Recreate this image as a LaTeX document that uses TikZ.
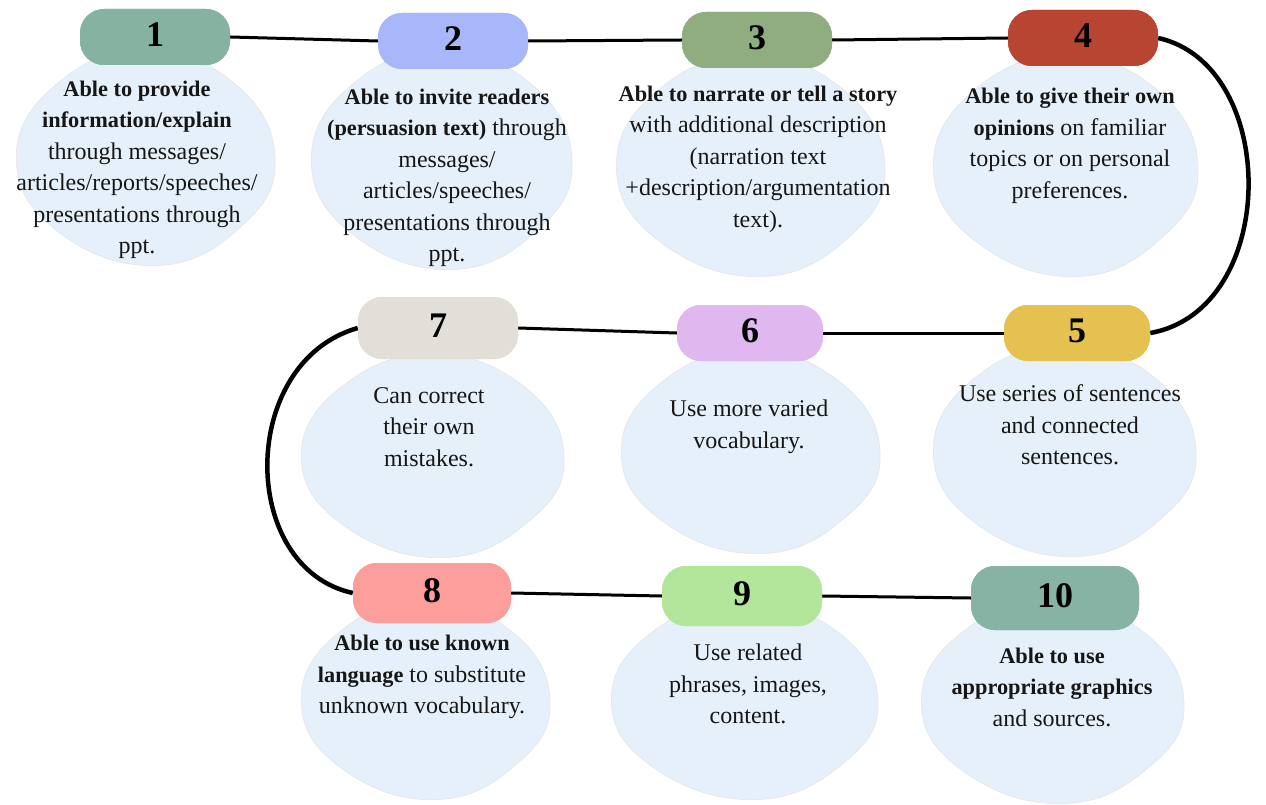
\documentclass[tikz,border=0pt]{standalone}
\usepackage{fontspec}
\setmainfont{Liberation Serif}
\definecolor{blobc}{HTML}{E6F0FB}
\definecolor{pA}{HTML}{86B3A1}
\definecolor{pB}{HTML}{A8B7F9}
\definecolor{pC}{HTML}{8FAD7F}
\definecolor{pD}{HTML}{B84432}
\definecolor{pE}{HTML}{E5C24F}
\definecolor{pF}{HTML}{E0B7EF}
\definecolor{pG}{HTML}{E2DFD9}
\definecolor{pH}{HTML}{FC9E9C}
\definecolor{pI}{HTML}{B3E69B}
\definecolor{pJ}{HTML}{86B3A3}
\definecolor{txt}{HTML}{161616}
\newcommand\bt[1]{{\fontsize{22.3}{31.5}\selectfont\bfseries #1}}
\newcommand\myblob[4]{%
  \filldraw[fill=blobc,draw=black!10,line width=0.6pt] plot[smooth cycle,tension=0.75] coordinates {
    ({#1+#3*1.00*cos(0)},{#2+#4*1.00*sin(0)})
    ({#1+#3*0.97*cos(40)},{#2+#4*0.98*sin(40)})
    ({#1+#3*0.99*cos(85)},{#2+#4*1.00*sin(85)})
    ({#1+#3*0.95*cos(135)},{#2+#4*0.96*sin(135)})
    ({#1+#3*0.99*cos(180)},{#2+#4*0.99*sin(180)})
    ({#1+#3*0.96*cos(225)},{#2+#4*0.97*sin(225)})
    ({#1+#3*0.95*cos(270)},{#2+#4*1.00*sin(270)})
    ({#1+#3*0.98*cos(315)},{#2+#4*0.97*sin(315)})
  };}
\tikzset{
  pill/.style={rectangle,rounded corners=24pt,minimum width=150pt,minimum height=56pt,
    inner sep=0pt,text depth=5pt,font=\fontsize{36}{36}\selectfont\bfseries,text=black},
  desc/.style={align=center,font=\fontsize{24}{31.5}\selectfont,text=txt,inner sep=0pt},
  link/.style={line width=3pt,black},
  arcline/.style={line width=4.5pt,black}
}
\begin{document}
\begin{tikzpicture}[x=1pt,y=-1pt]
\useasboundingbox (0,0) rectangle (1266,805);
% blobs
\myblob{145}{158}{130}{108}
\myblob{441}{160}{131}{110}
\myblob{750}{166}{135}{111}
\myblob{1065}{166}{133}{111}
\myblob{432}{456}{132}{102}
\myblob{750}{452}{130}{102}
\myblob{1064}{451}{132}{106}
\myblob{425}{700}{125}{100}
\myblob{744}{700}{134}{100}
\myblob{1052}{702}{132}{102}
% pills
\node[pill,fill=pA] (p1) at (155,37) {1};
\node[pill,fill=pB] (p2) at (453,41) {2};
\node[pill,fill=pC] (p3) at (757,40) {3};
\node[pill,fill=pD] (p4) at (1083,38) {4};
\node[pill,fill=pE,minimum width=146pt] (p5) at (1077,333) {5};
\node[pill,fill=pF,minimum width=146pt] (p6) at (750,333) {6};
\node[pill,fill=pG,minimum width=160pt,minimum height=62pt] (p7) at (438,328) {7};
\node[pill,fill=pH,minimum width=158pt,minimum height=60pt] (p8) at (432,593) {8};
\node[pill,fill=pI,minimum width=160pt,minimum height=60pt] (p9) at (742,596) {9};
\node[pill,fill=pJ,minimum width=168pt,minimum height=64pt] (p10) at (1055,598) {10};
% connectors
\draw[link] (p1.east) -- (p2.west);
\draw[link] (p2.east) -- (p3.west);
\draw[link] (p3.east) -- (p4.west);
\draw[arcline] (p4.east) .. controls (1280,65) and (1280,310) .. (p5.east);
\draw[link] (p5.west) -- (p6.east);
\draw[link] (p6.west) -- (p7.east);
\draw[arcline] (p7.west) .. controls (238,362) and (238,568) .. (p8.west);
\draw[link] (p8.east) -- (p9.west);
\draw[link] (p9.east) -- (p10.west);
% redraw pills on top
\node[pill,fill=pA] at (p1) {1};
\node[pill,fill=pB] at (p2) {2};
\node[pill,fill=pC] at (p3) {3};
\node[pill,fill=pD] at (p4) {4};
\node[pill,fill=pE,minimum width=146pt] at (p5) {5};
\node[pill,fill=pF,minimum width=146pt] at (p6) {6};
\node[pill,fill=pG,minimum width=160pt,minimum height=62pt] at (p7) {7};
\node[pill,fill=pH,minimum width=158pt,minimum height=60pt] at (p8) {8};
\node[pill,fill=pI,minimum width=160pt,minimum height=60pt] at (p9) {9};
\node[pill,fill=pJ,minimum width=168pt,minimum height=64pt] at (p10) {10};
% texts
\node[desc] (t1) at (137,170) {\bt{Able to provide}\\\bt{information/explain}\\through messages/\\articles/reports/speeches/\\presentations through\\ppt.};
\node[desc] (t2) at (447,178) {\bt{Able to invite readers}\\\bt{(persuasion text)} through\\messages/\\articles/speeches/\\presentations through\\ppt.};
\node[desc] (t3) at (758,159) {\bt{Able to narrate or tell a story}\\with additional description\\(narration text\\+description/argumentation\\text).};
\node[desc] (t4) at (1070,146) {\bt{Able to give their own}\\\bt{opinions} on familiar\\topics or on personal\\preferences.};
\node[desc] (t7) at (429,427) {Can correct\\their own\\mistakes.};
\node[desc] (t6) at (749,427) {Use more varied\\vocabulary.};
\node[desc] (t5) at (1070,425) {Use series of sentences\\and connected\\sentences.};
\node[desc] (t8) at (422,677) {\bt{Able to use known}\\\bt{language} to substitute\\unknown vocabulary.};
\node[desc] (t9) at (748,684) {Use related\\phrases, images,\\content.};
\node[desc] (t10) at (1052,687) {\bt{Able to use}\\\bt{appropriate graphics}\\and sources.};
\end{tikzpicture}
\end{document}
